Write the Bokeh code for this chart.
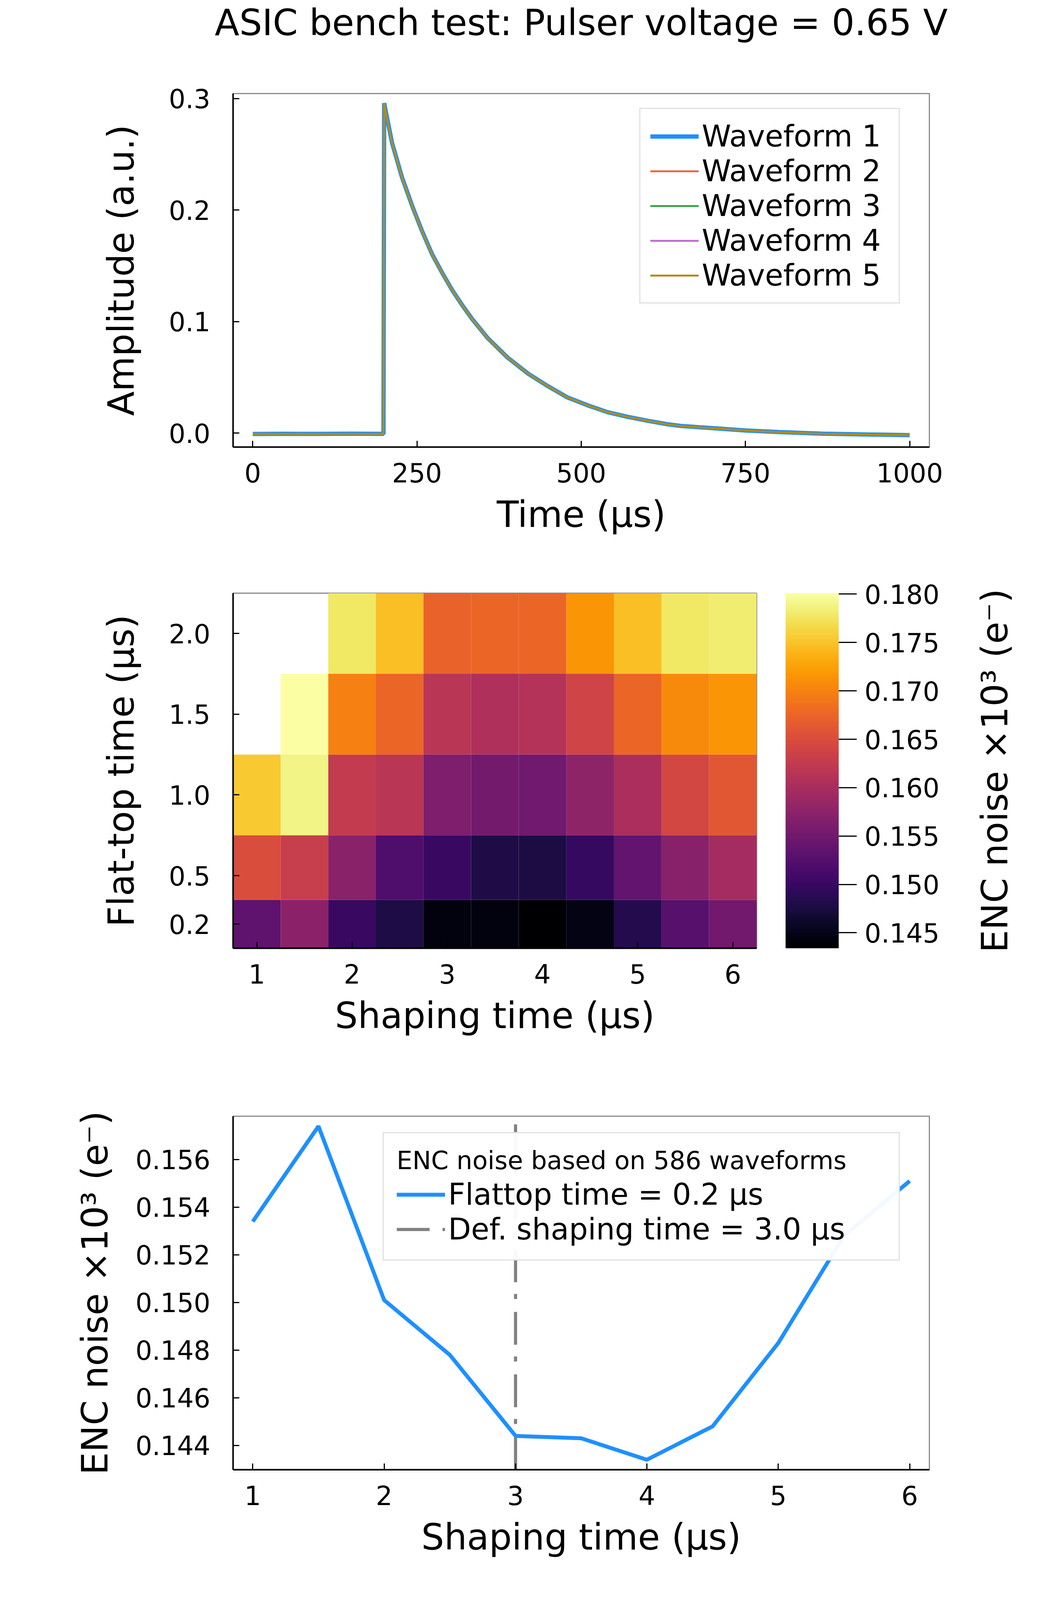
import numpy as np

from bokeh.layouts import column, row
from bokeh.models import (ColorBar, ColumnDataSource, FixedTicker, LinearAxis,
                          LinearColorMapper, PrintfTickFormatter, Range1d)
from bokeh.palettes import Inferno256
from bokeh.plotting import figure
from bokeh.embed import file_html
from bokeh.resources import INLINE

FONT = "DejaVu Sans"

# --- top panel: pulser waveforms ---
time_us = [0, 50, 100, 150, 199, 200, 212, 227, 243, 258, 273, 288, 303, 319,
           334, 358, 388, 419, 449, 479, 510, 540, 570, 601, 631, 652, 700,
           750, 800, 867, 935, 1000]
amp_w1 = [-0.0008, -0.0006, -0.0007, -0.0005, -0.0007, 0.2959, 0.2603, 0.2297,
          0.2032, 0.1808, 0.1604, 0.1441, 0.1288, 0.1146, 0.1023, 0.0850,
          0.0677, 0.0534, 0.0422, 0.0320, 0.0249, 0.0188, 0.0147, 0.0111,
          0.0080, 0.0064, 0.0045, 0.0024, 0.0010, -0.0005, -0.0012, -0.0018]
amp_w2 = [-0.0007, -0.0008, -0.0006, -0.0006, -0.0008, 0.2953, 0.2599, 0.2294,
          0.2029, 0.1806, 0.1602, 0.1439, 0.1287, 0.1145, 0.1022, 0.0849,
          0.0676, 0.0533, 0.0421, 0.0319, 0.0248, 0.0187, 0.0146, 0.0110,
          0.0079, 0.0063, 0.0044, 0.0023, 0.0009, -0.0006, -0.0012, -0.0017]
amp_w3 = [-0.0009, -0.0007, -0.0008, -0.0006, -0.0007, 0.2951, 0.2598, 0.2293,
          0.2028, 0.1805, 0.1601, 0.1438, 0.1286, 0.1144, 0.1021, 0.0848,
          0.0676, 0.0533, 0.0421, 0.0319, 0.0248, 0.0188, 0.0147, 0.0110,
          0.0080, 0.0064, 0.0045, 0.0023, 0.0010, -0.0005, -0.0011, -0.0017]
amp_w4 = [-0.0008, -0.0007, -0.0007, -0.0007, -0.0008, 0.2952, 0.2600, 0.2294,
          0.2030, 0.1806, 0.1602, 0.1440, 0.1287, 0.1145, 0.1022, 0.0849,
          0.0677, 0.0534, 0.0422, 0.0320, 0.0249, 0.0187, 0.0146, 0.0111,
          0.0079, 0.0063, 0.0044, 0.0024, 0.0009, -0.0006, -0.0013, -0.0018]
amp_w5 = [-0.0007, -0.0006, -0.0008, -0.0006, -0.0007, 0.2954, 0.2601, 0.2295,
          0.2030, 0.1807, 0.1603, 0.1440, 0.1287, 0.1145, 0.1022, 0.0849,
          0.0677, 0.0533, 0.0421, 0.0320, 0.0249, 0.0188, 0.0147, 0.0111,
          0.0080, 0.0064, 0.0045, 0.0024, 0.0010, -0.0005, -0.0012, -0.0017]
wave_names = ["Waveform 1", "Waveform 2", "Waveform 3", "Waveform 4", "Waveform 5"]
wave_colors = ["#1E90FF", "#E26F46", "#3DA44D", "#C271D2", "#AC8E18"]

# --- ENC noise grid: shaping time x flat-top time ---
shaping = [1.0, 1.5, 2.0, 2.5, 3.0, 3.5, 4.0, 4.5, 5.0, 5.5, 6.0]
flattop = [0.2, 0.5, 1.0, 1.5, 2.0]
enc_ft02 = [0.1534, 0.1574, 0.1501, 0.1478, 0.1444, 0.1443, 0.1434, 0.1448,
            0.1483, 0.1528, 0.1551]
enc_ft05 = [0.1650, 0.1630, 0.1573, 0.1520, 0.1500, 0.1479, 0.1477, 0.1497,
            0.1536, 0.1570, 0.1597]
enc_ft10 = [0.1755, 0.1789, 0.1625, 0.1617, 0.1563, 0.1552, 0.1549, 0.1576,
            0.1603, 0.1643, 0.1661]
enc_ft15 = [np.nan, 0.1801, 0.1698, 0.1675, 0.1617, 0.1606, 0.1611, 0.1638,
            0.1676, 0.1707, 0.1716]
enc_ft20 = [np.nan, np.nan, 0.1777, 0.1747, 0.1672, 0.1675, 0.1675, 0.1716,
            0.1747, 0.1778, 0.1782]
enc_rows = [enc_ft02, enc_ft05, enc_ft10, enc_ft15, enc_ft20]
cbar_ticks = [0.145, 0.150, 0.155, 0.160, 0.165, 0.170, 0.175, 0.180]

n_waveforms = 586
default_shaping = 3.0
enc_label = "ENC noise ×10³ (e⁻)"
title_text = "ASIC bench test: Pulser voltage = 0.65 V"


def style(p, xlabel, ylabel, y_standoff=65):
    p.xgrid.visible = False
    p.ygrid.visible = False
    p.outline_line_color = "#8c8c8c"
    p.outline_line_width = 3
    for ax in (p.xaxis, p.yaxis):
        ax.axis_line_width = 4
        ax.axis_line_color = "black"
        ax.major_tick_in = 16
        ax.major_tick_out = 0
        ax.major_tick_line_width = 3
        ax.minor_tick_line_color = None
        ax.major_label_text_font = FONT
        ax.major_label_text_font_size = "67px"
        ax.major_label_text_color = "black"
        ax.axis_label_text_font = FONT
        ax.axis_label_text_font_size = "92px"
        ax.axis_label_text_font_style = "normal"
        ax.axis_label_text_color = "black"
    p.xaxis.axis_label = xlabel
    p.yaxis.axis_label = ylabel
    p.xaxis.major_label_standoff = 40
    p.xaxis.axis_label_standoff = 26
    p.yaxis.major_label_standoff = 58
    p.yaxis.axis_label_standoff = y_standoff


def style_legend(lg, padding, label_width):
    lg.label_text_font = FONT
    lg.label_text_font_size = "76px"
    lg.label_text_color = "black"
    lg.label_height = 82
    lg.glyph_height = 82
    lg.glyph_width = 124
    lg.label_width = label_width
    lg.label_standoff = 8
    lg.spacing = 0
    lg.padding = padding
    lg.border_line_color = "#c4c4c4"
    lg.border_line_width = 3
    lg.margin = 0


def bare_label_axis(text, standoff):
    # an axis that shows only its label (used for the title and the colour-bar caption)
    return LinearAxis(ticker=FixedTicker(ticks=[]), axis_label=text,
                      axis_line_color=None, major_tick_line_color=None,
                      minor_tick_line_color=None, major_tick_in=0, major_tick_out=0,
                      axis_label_standoff=standoff, axis_label_text_font=FONT,
                      axis_label_text_font_size="92px",
                      axis_label_text_font_style="normal",
                      axis_label_text_color="black")


# ---------------- panel 1: waveforms ----------------
p1 = figure(frame_width=1782, frame_height=905, output_backend="svg",
            toolbar_location=None, x_range=Range1d(-30, 1030),
            y_range=Range1d(-0.0125, 0.3045),
            min_border_left=596, min_border_right=306,
            min_border_top=239, min_border_bottom=256)
for i, amps in enumerate([amp_w1, amp_w2, amp_w3, amp_w4, amp_w5]):
    p1.line(time_us, amps, color=wave_colors[i], line_width=11 if i == 0 else 5,
            legend_label=wave_names[i])
style(p1, "Time (μs)", "Amplitude (a.u.)")
p1.xaxis.ticker = FixedTicker(ticks=[0, 250, 500, 750, 1000])
p1.yaxis.ticker = FixedTicker(ticks=[0.0, 0.1, 0.2, 0.3])
p1.yaxis.formatter = PrintfTickFormatter(format="%.1f")
style_legend(p1.legend[0], 25, 479)
p1.legend.location = (1040, 367)
p1.add_layout(bare_label_axis(title_text, 128), "above")

# ---------------- panel 2: ENC heatmap ----------------
def edges(v):
    v = np.asarray(v, dtype=float)
    mid = (v[1:] + v[:-1]) / 2
    return np.concatenate([[v[0] - (v[1] - v[0]) / 2], mid,
                           [v[-1] + (v[-1] - v[-2]) / 2]])


xe, ye = edges(shaping), edges(flattop)
left, right, bottom, top, enc = [], [], [], [], []
for j, vals in enumerate(enc_rows):
    for i, val in enumerate(vals):
        if np.isnan(val):
            continue
        left.append(xe[i]); right.append(xe[i + 1])
        bottom.append(ye[j]); top.append(ye[j + 1])
        enc.append(val)
cells = ColumnDataSource(data=dict(left=left, right=right, bottom=bottom,
                                   top=top, enc=enc))

mapper = LinearColorMapper(palette=Inferno256, low=min(enc), high=max(enc))

p2 = figure(frame_width=1340, frame_height=909, output_backend="svg",
            toolbar_location=None, x_range=Range1d(xe[0], xe[-1]),
            y_range=Range1d(ye[0], ye[-1]),
            min_border_left=596, min_border_right=553,
            min_border_top=118, min_border_bottom=312)
p2.quad(left="left", right="right", bottom="bottom", top="top",
        fill_color={"field": "enc", "transform": mapper}, line_color=None,
        source=cells)
style(p2, "Shaping time (μs)", "Flat-top time (μs)")
p2.xaxis.ticker = FixedTicker(ticks=[1, 2, 3, 4, 5, 6])
p2.yaxis.ticker = FixedTicker(ticks=flattop)
p2.yaxis.formatter = PrintfTickFormatter(format="%.1f")

cbar = ColorBar(color_mapper=mapper, width=136, height=909, padding=0, margin=0,
                location=(74, 0), ticker=FixedTicker(ticks=cbar_ticks),
                formatter=PrintfTickFormatter(format="%.3f"),
                major_tick_in=0, major_tick_out=46, major_tick_line_color="black",
                major_tick_line_width=3, minor_tick_line_color=None,
                label_standoff=20, major_label_text_font=FONT,
                major_label_text_font_size="67px", major_label_text_color="black",
                bar_line_color=None)
p2.add_layout(cbar, "right")

# colour-bar caption: a bare axis label in a thin strip to the right
p2b = figure(frame_width=20, frame_height=909, output_backend="svg",
             toolbar_location=None, x_range=Range1d(0, 1), y_range=Range1d(0, 1),
             min_border_left=0, min_border_right=0,
             min_border_top=118, min_border_bottom=312)
p2b.outline_line_color = None
p2b.xgrid.visible = False
p2b.ygrid.visible = False
p2b.xaxis.visible = False
p2b.yaxis.visible = False
p2b.add_layout(bare_label_axis(enc_label, 0), "left")

# ---------------- panel 3: ENC vs shaping time at 0.2 us flat-top ----------------
lo, hi = min(enc_ft02), max(enc_ft02)
pad = 0.03 * (hi - lo)
p3 = figure(frame_width=1782, frame_height=905, output_backend="svg",
            toolbar_location=None, x_range=Range1d(0.85, 6.15),
            y_range=Range1d(lo - pad, hi + pad),
            min_border_left=596, min_border_right=306,
            min_border_top=118, min_border_bottom=250)
p3.line(shaping, enc_ft02, color="#1E90FF", line_width=10,
        legend_label="Flattop time = 0.2 μs")
p3.segment(x0=[default_shaping], y0=[lo - pad], x1=[default_shaping], y1=[hi + pad],
           line_color="gray", line_width=8, line_dash="84 33 13 30",
           legend_label="Def. shaping time = 3.0 μs")
style(p3, "Shaping time (μs)", enc_label, y_standoff=47)
p3.xaxis.ticker = FixedTicker(ticks=[1, 2, 3, 4, 5, 6])
p3.yaxis.ticker = FixedTicker(ticks=[0.144, 0.146, 0.148, 0.150, 0.152, 0.154, 0.156])
p3.yaxis.formatter = PrintfTickFormatter(format="%.3f")
lg3 = p3.legend[0]
style_legend(lg3, 33, 1120)
lg3.title = f"ENC noise based on {n_waveforms} waveforms"
lg3.title_text_font = FONT
lg3.title_text_font_size = "64px"
lg3.title_text_font_style = "normal"
lg3.title_text_color = "black"
lg3.title_standoff = 5
lg3.location = (383, 535)

layout = column(p1, row(p2, p2b, spacing=0), p3, spacing=0)
open("out.html", "w").write(file_html(layout, INLINE))
